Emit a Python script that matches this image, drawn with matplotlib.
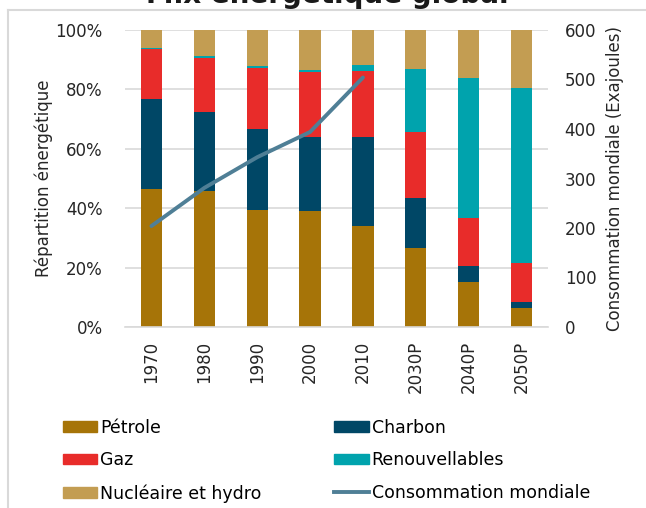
import numpy as np
import matplotlib.pyplot as plt
from matplotlib.patches import Patch
from matplotlib.lines import Line2D
from matplotlib.ticker import PercentFormatter

plt.rcParams['font.family'] = ['DejaVu Sans']

# donnees
annees = ['1970', '1980', '1990', '2000', '2010', '2030P', '2040P', '2050P']
petrole = [46.6, 45.7, 39.5, 39.0, 33.9, 26.7, 15.0, 6.5]
charbon = [30.0, 26.7, 27.2, 25.0, 30.0, 16.9, 5.5, 1.9]
gaz = [16.9, 18.3, 20.6, 21.9, 22.4, 22.2, 16.1, 13.0]
renouv = [0.3, 0.4, 0.5, 0.8, 1.9, 21.0, 47.4, 59.2]
nucleaire = [6.2, 8.9, 12.2, 13.3, 11.8, 13.2, 16.0, 19.4]
conso_annees = ['1970', '1980', '1990', '2000', '2010']
conso = [204, 281, 343, 394, 504]

couleurs = ['#A67408', '#004766', '#E82C2A', '#00A3AD', '#C39D52']
noms = ['Pétrole', 'Charbon', 'Gaz', 'Renouvellables', 'Nucléaire et hydro']
c_ligne = '#4F7F96'

fig = plt.figure(figsize=(6.46, 5.08), dpi=100)
# cadre gris (haut et gauche seulement visibles)
fig.add_artist(Line2D([8/646, 1], [1 - 10/508] * 2, transform=fig.transFigure,
                      color='#D9D9D9', lw=1.5))
fig.add_artist(Line2D([8/646] * 2, [0, 1 - 10/508], transform=fig.transFigure,
                      color='#D9D9D9', lw=1.5))
ax = fig.add_axes([125/646, 181/508, 423/646, 297/508])

x = np.arange(len(annees))
bas = np.zeros(len(annees))
for serie, c in zip([petrole, charbon, gaz, renouv, nucleaire], couleurs):
    ax.bar(x, serie, 0.4, bottom=bas, color=c, zorder=2)
    bas += np.array(serie)

ax.set_xlim(-0.5, len(annees) - 0.5)
ax.set_ylim(0, 100)
ax.set_yticks(np.arange(0, 101, 20))
ax.yaxis.set_major_formatter(PercentFormatter(decimals=0))
ax.grid(axis='y', color='#D9D9D9', lw=1.2, zorder=0)
ax.set_axisbelow(True)
for s in ['top', 'right', 'left']:
    ax.spines[s].set_visible(False)
ax.spines['bottom'].set_color('#D9D9D9')
ax.spines['bottom'].set_linewidth(1.2)
ax.set_xticks(x)
ax.set_xticklabels(annees, rotation=90)
ax.tick_params(axis='both', length=0, labelsize=12, colors='#262626')
ax.tick_params(axis='x', pad=10)
ax.tick_params(axis='y', pad=16)
ax.set_ylabel('Répartition énergétique', fontsize=12, color='#262626', labelpad=2)

ax2 = ax.twinx()
ax2.plot(x[:len(conso)], conso, color=c_ligne, lw=2.8, solid_capstyle='round', zorder=3)
ax2.set_ylim(0, 600)
ax2.set_yticks(np.arange(0, 601, 100))
for s in ax2.spines.values():
    s.set_visible(False)
ax2.tick_params(axis='y', length=0, labelsize=12, colors='#262626', pad=12)
ax2.set_ylabel('Consommation mondiale (Exajoules)', fontsize=12, color='#262626', labelpad=7)

fig.text(0.507, 1 - 3/508, 'Mix énergétique global', ha='center', va='baseline',
         fontsize=20, fontweight='bold', color='#1a1a1a')

h = [Patch(color=couleurs[0]), Patch(color=couleurs[2]), Patch(color=couleurs[4]),
     Patch(color=couleurs[1]), Patch(color=couleurs[3]),
     Line2D([], [], color=c_ligne, lw=2.8)]
lab = [noms[0], noms[2], noms[4], noms[1], noms[3], 'Consommation mondiale']
fig.legend(h, lab, ncol=2, loc='upper left', bbox_to_anchor=(47/646, 1 - 403/508),
           frameon=False, fontsize=12.5, handlelength=2.0, handleheight=0.55,
           handletextpad=0.15, labelspacing=0.85, columnspacing=4.2)

fig.savefig('out.png', dpi=100)
